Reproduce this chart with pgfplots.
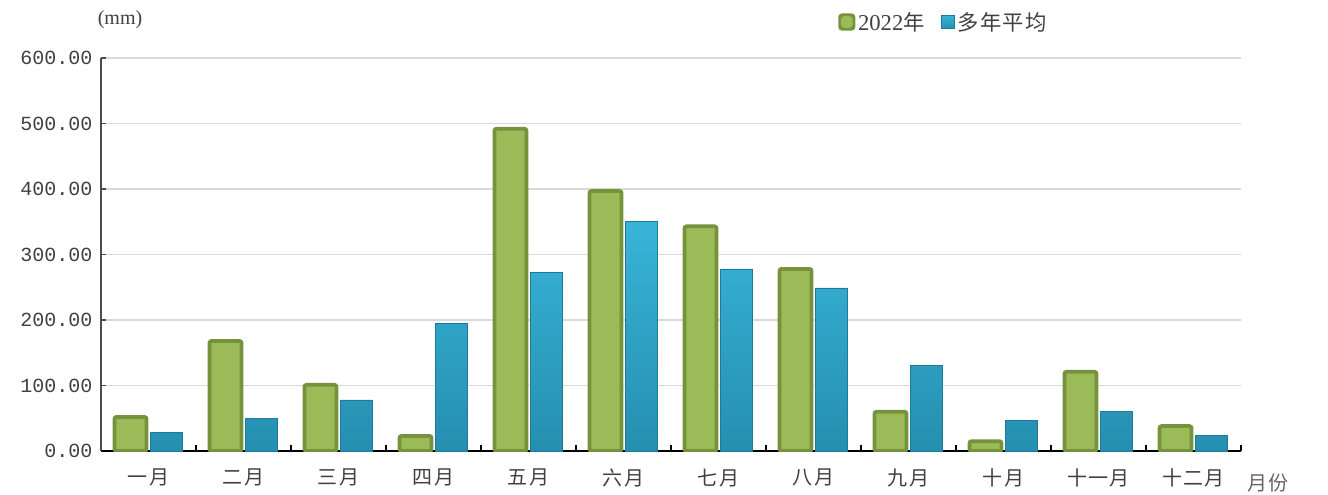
\documentclass[border=0pt]{standalone}
\usepackage{fontspec}
\setmainfont{Noto Sans CJK SC}[LetterSpace=6]
\newfontfamily\monofont{Liberation Mono}
\newfontfamily\seriffont{Liberation Serif}
\usepackage{pgfplots}
\pgfplotsset{compat=1.18}
\definecolor{gfill}{HTML}{9BBB59}
\definecolor{gedge}{HTML}{76923C}
\definecolor{btop}{HTML}{38B4D8}
\definecolor{bbot}{HTML}{258FB0}
\definecolor{bedge}{HTML}{1E7A96}
\definecolor{txt}{HTML}{404040}
\definecolor{gridc}{HTML}{D9D9D9}
\begin{document}
\begin{tikzpicture}
\useasboundingbox (-75.75pt,-32.25pt) rectangle (920.25pt,338.25pt);
\begin{axis}[
  at={(0,0)}, anchor=south west,
  scale only axis, width=855pt, height=294.75pt,
  xmin=-0.5, xmax=11.5, ymin=0, ymax=600,
  ybar=3pt, bar width=24pt,
  axis x line*=bottom, axis y line*=left,
  x axis line style={black, line width=1.2pt, -},
  y axis line style={black!70, line width=1pt, -},
  xtick={0,...,11},
  xticklabels={一月,二月,三月,四月,五月,六月,七月,八月,九月,十月,十一月,十二月},
  major x tick style={draw=none},
  minor xtick={-0.5,0.5,...,11.5},
  minor x tick style={black, line width=0.8pt},
  minor tick length=4.5pt,
  tick align=inside,
  ytick={0,100,...,600},
  major tick length=4pt,
  y tick style={black!70, line width=0.8pt},
  ymajorgrids, grid style={gridc, line width=0.8pt},
  yticklabel={\monofont\pgfmathprintnumber[assume math mode=true,fixed,fixed zerofill,precision=2]{\tick}},
  yticklabel style={font=\fontsize{15pt}{15pt}\selectfont, text=txt, xshift=-3pt},
  xticklabel style={font=\fontsize{15pt}{15pt}\selectfont, text=txt, yshift=-10pt},
  legend columns=2,
  legend style={draw=none, fill=none, inner sep=0pt, at={(0.6465,1)}, anchor=west, yshift=27pt,
    font=\fontsize{16pt}{16pt}\selectfont, text=txt, /tikz/every even column/.append style={column sep=10pt}},
  legend cell align=left,
]
\addplot[fill=gfill, draw=gedge, line width=2.8pt, rounded corners=1.5pt,
  legend image code/.code={\fill[gedge] (0pt,-5pt) rectangle (10pt,5pt); \fill[gfill] (2pt,-3pt) rectangle (8pt,3pt);}]
  coordinates {(0,52) (1,168) (2,101) (3,23) (4,492) (5,397) (6,343) (7,278) (8,60) (9,15) (10,121) (11,38)};
\addlegendentry{{\seriffont\fontsize{17pt}{17pt}\selectfont 2022}年}
\addplot[draw=bedge, line width=0.6pt, top color=btop, bottom color=bbot,
  legend image code/.code={\shade[top color=btop, bottom color=bbot, draw=bedge] (0pt,-5pt) rectangle (10pt,5pt);}]
  coordinates {(0,29) (1,50) (2,78) (3,195) (4,273) (5,350) (6,278) (7,249) (8,130) (9,47) (10,60) (11,24)};
\addlegendentry{多年平均}
\end{axis}
\node[font=\seriffont\fontsize{15pt}{15pt}\selectfont, text=txt] at (14.25pt,323.25pt) {(mm)};
\node[font=\fontsize{15pt}{15pt}\selectfont, text=txt!80] at (875.25pt,-24pt) {月份};
\end{tikzpicture}
\end{document}
